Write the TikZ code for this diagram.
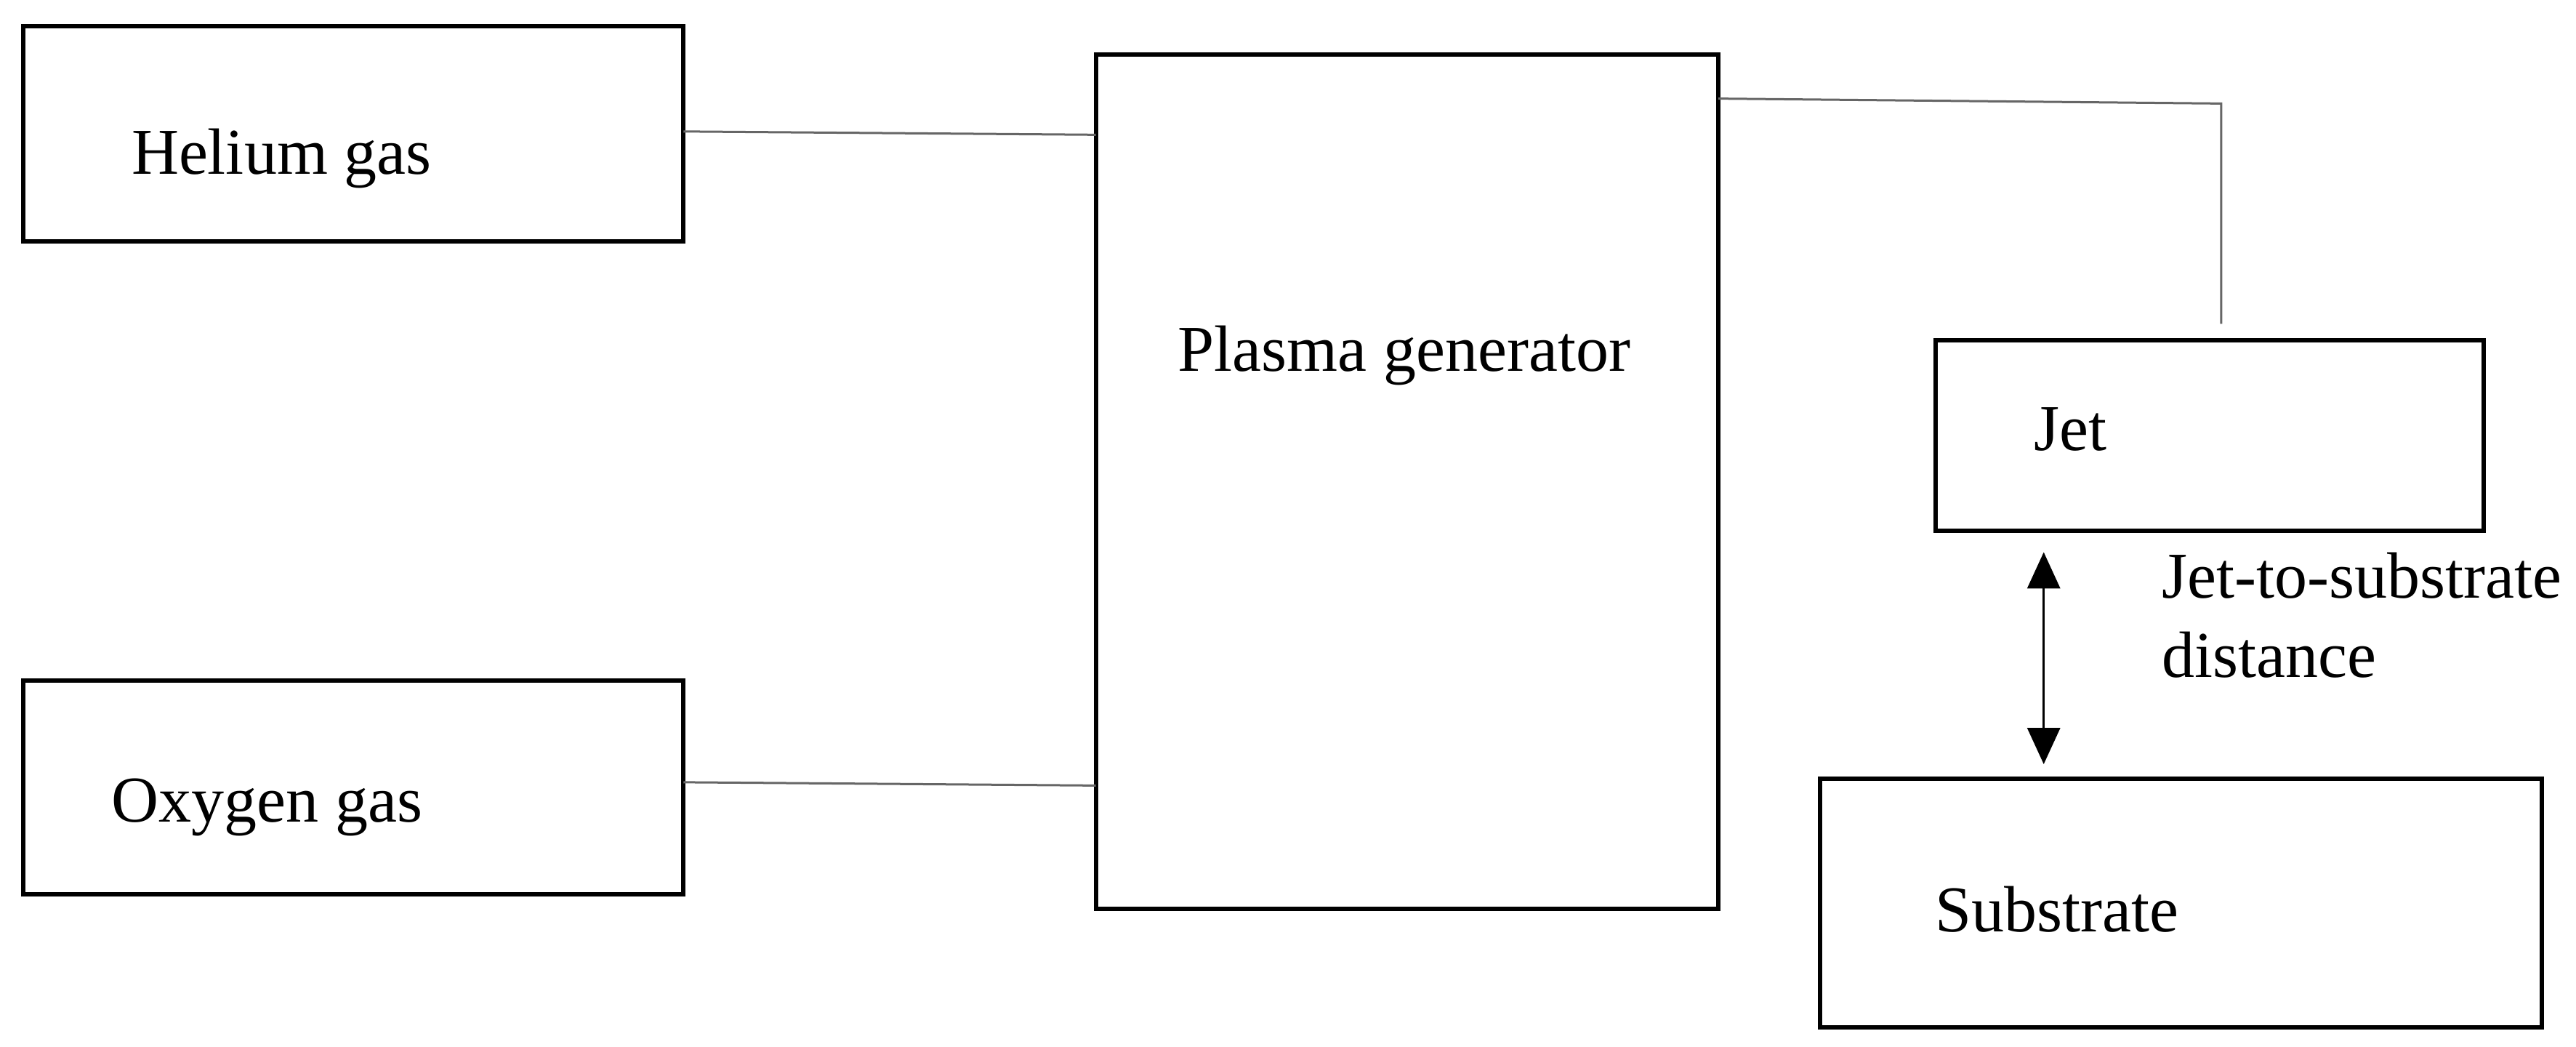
\documentclass[tikz,border=0pt]{standalone}
\usepackage{fontspec}
\setmainfont{Liberation Serif}
\usetikzlibrary{arrows.meta}
\begin{document}
\begin{tikzpicture}[x=2.26pt,y=-2.26pt,
  blk/.style={draw=black,line width=6pt},
  con/.style={draw=black!60,line width=3pt},
  lbl/.style={font=\fontsize{90}{108}\selectfont,inner sep=0pt,anchor=base west}]
\useasboundingbox (0,0) rectangle (1568,637);
\draw[blk] (14,16) rectangle (416,147);
\draw[blk] (14,414) rectangle (416,544);
\draw[blk] (667,33) rectangle (1046,553);
\draw[blk] (1178,207) rectangle (1512,323);
\draw[blk] (1108,474) rectangle (1547,625);
\node[lbl] (he) at (80,106) {Helium gas};
\node[lbl] (ox) at (68,500) {Oxygen gas};
\node[lbl] (pg) at (717,226) {Plasma generator};
\node[lbl] (jt) at (1238,274) {Jet};
\node[lbl] (d1) at (1316,364) {Jet-to-substrate};
\node[lbl] (d2) at (1316,412) {distance};
\node[lbl] (sb) at (1178,567) {Substrate};
\coordinate (a1) at (416,80); \coordinate (a2) at (667,82);
\coordinate (b1) at (416,476); \coordinate (b2) at (667,478);
\coordinate (c1) at (1046,60); \coordinate (c2) at (1352,63); \coordinate (c3) at (1352,197);
\coordinate (j1) at (1244,336); \coordinate (j2) at (1244,465);
\draw[con] (a1) -- (a2);
\draw[con] (b1) -- (b2);
\draw[con] (c1) -- (c2) -- (c3);
\draw[line width=3.5pt,{Triangle[length=50pt,width=45pt]}-{Triangle[length=50pt,width=45pt]}] (j1) -- (j2);
\end{tikzpicture}
\end{document}
